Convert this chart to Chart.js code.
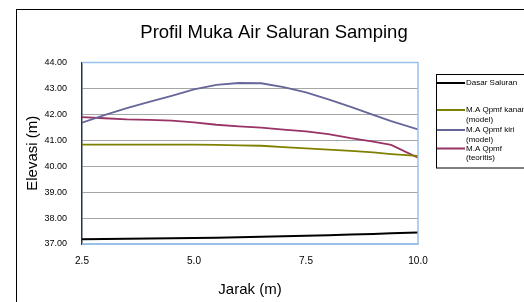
<!DOCTYPE html>
<html>
<head>
<meta charset="utf-8">
<script src="https://cdn.jsdelivr.net/npm/chart.js@4"></script>
<style>
  html, body { margin: 0; padding: 0; background: #fff; }
</style>
</head>
<body>
<canvas id="profil" width="524" height="302"></canvas>
<script>
// jarak (m) along the channel
const jarak = [2.5, 3.0, 3.5, 4.0, 4.5, 5.0, 5.5, 6.0, 6.5, 7.0, 7.5, 8.0, 8.5, 9.0, 9.4, 10.0];

// elevasi (m)
const dasarSaluran = [37.18, 37.19, 37.20, 37.21, 37.22, 37.23, 37.24, 37.26, 37.28, 37.30, 37.32, 37.34, 37.37, 37.39, 37.41, 37.44];
const qpmfKanan = [40.83, 40.83, 40.83, 40.83, 40.83, 40.83, 40.82, 40.80, 40.79, 40.74, 40.69, 40.64, 40.59, 40.53, 40.47, 40.40];
const qpmfKiri = [41.68, 41.97, 42.24, 42.48, 42.71, 42.96, 43.14, 43.21, 43.20, 43.05, 42.85, 42.58, 42.29, 41.98, 41.74, 41.42];
const qpmfTeoritis = [41.89, 41.85, 41.81, 41.79, 41.76, 41.69, 41.60, 41.54, 41.49, 41.41, 41.34, 41.24, 41.08, 40.95, 40.82, 40.33];

const seriesNames = [
  ["Dasar Saluran"],
  ["M.A Qpmf kanan", "(model)"],
  ["M.A Qpmf kiri", "(model)"],
  ["M.A Qpmf", "(teoritis)"],
];
const seriesColors = ["#000000", "#808000", "#666699", "#993366"];

const chartTitle = "Profil Muka Air Saluran Samping";
const xTicks = [2.5, 5.0, 7.5, 10.0];
const yMin = 37, yMax = 44;

const FONT = "'Liberation Sans', Arial, sans-serif";

const pts = (ys) => jarak.map((x, i) => ({ x, y: ys[i] }));

// white page, title, outer frame, plot border, legend box
const frame = {
  id: "frame",
  beforeDraw(c) {
    const ctx = c.ctx;
    ctx.save();
    ctx.fillStyle = "#fff";
    ctx.fillRect(0, 0, c.width, c.height);
    ctx.restore();
  },
  afterDraw(c) {
    const ctx = c.ctx;
    const a = c.chartArea;
    ctx.save();
    ctx.strokeStyle = "#000";
    ctx.lineWidth = 1;
    ctx.strokeRect(16.5, 9.5, 600, 400);

    ctx.fillStyle = "#000";
    ctx.font = "18.5px " + FONT;
    ctx.textAlign = "center";
    ctx.textBaseline = "middle";
    ctx.fillText(chartTitle, 274, 33);

    // light blue top / right / bottom edges
    ctx.strokeStyle = "#99c2ea";
    ctx.lineWidth = 1.5;
    ctx.beginPath();
    ctx.moveTo(a.left, a.top);
    ctx.lineTo(a.right, a.top);
    ctx.lineTo(a.right, a.bottom);
    ctx.lineTo(a.left, a.bottom);
    ctx.stroke();

    // legend
    ctx.strokeStyle = "#000";
    ctx.lineWidth = 1;
    ctx.strokeRect(436.5, 74.5, 120, 93.5);
    const rows = [83, 110, 130, 148.5];
    ctx.font = "8px " + FONT;
    ctx.textAlign = "left";
    ctx.textBaseline = "middle";
    c.data.datasets.forEach((ds, i) => {
      const y = rows[i];
      ctx.strokeStyle = ds.borderColor;
      ctx.lineWidth = 2;
      ctx.beginPath();
      ctx.moveTo(437, y);
      ctx.lineTo(465, y);
      ctx.stroke();
      ds.legendLines.forEach((t, k) => ctx.fillText(t, 466, y + k * 9.5));
    });
    ctx.restore();
  },
};

new Chart(document.getElementById("profil"), {
  type: "line",
  data: {
    datasets: [dasarSaluran, qpmfKanan, qpmfKiri, qpmfTeoritis].map((d, i) => ({
      label: seriesNames[i].join(" "),
      legendLines: seriesNames[i],
      data: pts(d),
      borderColor: seriesColors[i],
      borderWidth: i === 0 ? 2 : 1.8,
      pointRadius: 0,
      tension: 0,
      fill: false,
    })),
  },
  options: {
    responsive: false,
    animation: false,
    devicePixelRatio: 1,
    layout: { padding: { left: 0, top: 62.5, right: 106, bottom: 0 } },
    plugins: {
      legend: { display: false },
      tooltip: { enabled: false },
      title: { display: false },
    },
    scales: {
      x: {
        type: "linear",
        min: xTicks[0],
        max: xTicks[xTicks.length - 1],
        afterBuildTicks: (s) => (s.ticks = xTicks.map((v) => ({ value: v }))),
        afterFit: (s) => (s.height = 58),
        grid: { display: false, drawTicks: false },
        border: { color: "#99c2ea", width: 1.5 },
        ticks: {
          color: "#000",
          padding: 11,
          maxRotation: 0,
          font: { family: FONT, size: 10 },
          callback: (v) => Number(v).toFixed(1),
        },
        title: {
          display: true,
          text: "Jarak (m)",
          color: "#000",
          font: { family: FONT, size: 15 },
          padding: { top: 0, bottom: 3 },
        },
      },
      y: {
        min: yMin,
        max: yMax,
        afterFit: (s) => (s.width = 82),
        grid: { color: "#a6a6a6", lineWidth: 1, drawTicks: false },
        border: { color: "#25334d", width: 1.5 },
        ticks: {
          stepSize: 1,
          color: "#000",
          padding: 15,
          font: { family: FONT, size: 9 },
          callback: (v) => Number(v).toFixed(2),
        },
        title: {
          display: true,
          text: "Elevasi (m)",
          color: "#000",
          font: { family: FONT, size: 15 },
          padding: { top: 24, bottom: 0 },
        },
      },
    },
  },
  plugins: [frame],
});
</script>
</body>
</html>
